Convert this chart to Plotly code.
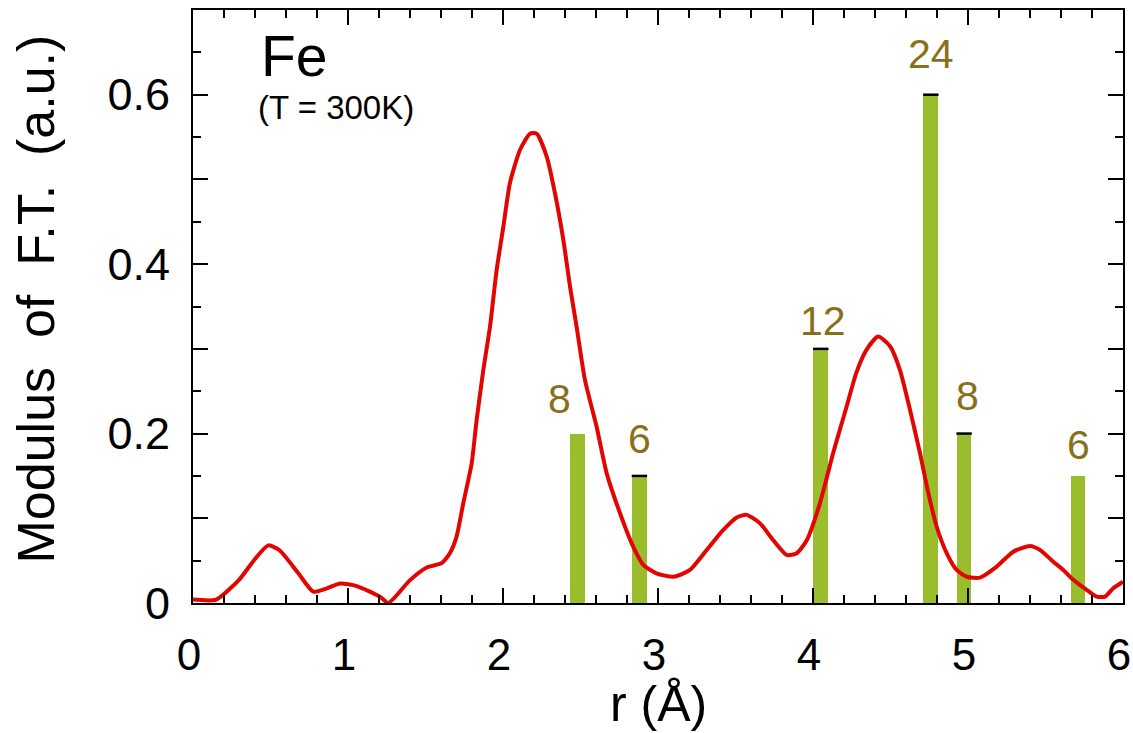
import plotly.graph_objects as go

# ---- data ----
r_curve = [0.0, 0.15, 0.30, 0.40, 0.486, 0.56, 0.68, 0.776, 0.86, 0.95, 1.056, 1.206, 1.26,
           1.40, 1.508, 1.604, 1.658, 1.70, 1.744, 1.798, 1.83, 1.873, 1.916, 1.959, 2.002,
           2.045, 2.11, 2.174, 2.217, 2.282, 2.335, 2.389, 2.432, 2.475, 2.529, 2.604, 2.669,
           2.755, 2.84, 2.905, 2.99, 3.10, 3.206, 3.314, 3.42, 3.508, 3.572, 3.658, 3.744,
           3.83, 3.895, 3.96, 4.045, 4.13, 4.174, 4.217, 4.28, 4.346, 4.42, 4.497, 4.561, 4.626,
           4.69, 4.744, 4.798, 4.863, 4.927, 4.992, 5.077, 5.185, 5.292, 5.40, 5.465, 5.55,
           5.615, 5.67, 5.766, 5.83, 5.884, 5.937, 6.0]
ft_curve = [0.004, 0.004, 0.028, 0.052, 0.068, 0.062, 0.035, 0.0134, 0.017, 0.023, 0.020, 0.0075, 0.0,
            0.027, 0.042, 0.047, 0.059, 0.078, 0.118, 0.165, 0.216, 0.275, 0.326, 0.393, 0.444,
            0.496, 0.535, 0.554, 0.554, 0.527, 0.484, 0.429, 0.374, 0.326, 0.263, 0.208, 0.153,
            0.106, 0.0665, 0.045, 0.035, 0.031, 0.039, 0.0626, 0.086, 0.101, 0.104, 0.094, 0.074,
            0.0567, 0.0587, 0.074, 0.118, 0.177, 0.205, 0.232, 0.272, 0.299, 0.3145, 0.303, 0.275, 0.228,
            0.177, 0.13, 0.090, 0.0587, 0.039, 0.031, 0.030, 0.043, 0.0606, 0.0673, 0.0626, 0.0488,
            0.039, 0.029, 0.0154, 0.0075, 0.0075, 0.0174, 0.025]

shell_r = [2.48, 2.88, 4.05, 4.76, 4.975, 5.71]
shell_height = [0.20, 0.15, 0.30, 0.60, 0.20, 0.15]
shell_n = ["8", "6", "12", "24", "8", "6"]
capped_shells = [1, 2, 3, 4]

y_tick_vals = [0.0, 0.1, 0.2, 0.3, 0.4, 0.5, 0.6, 0.7]
y_tick_text = ["0", "", "0.2", "", "0.4", "", "0.6", ""]
x_tick_vals = [0, 1, 2, 3, 4, 5, 6]

# label placement offsets (pixels), style only
label_xshift = [-18, 0, 2, 0, 3, 0]
label_yshift = [10, 12, 3, 16, 13, 6]

FONT = "Liberation Sans, Arial, Helvetica, sans-serif"
RED = "#e10600"
GREEN = "#9abd2e"
OLIVE = "#86711a"

fig = go.Figure()

fig.add_trace(go.Bar(
    x=shell_r, y=shell_height, width=0.095,
    marker=dict(color=GREEN, line=dict(width=0)),
    showlegend=False, hoverinfo="skip",
))

fig.add_trace(go.Scatter(
    x=[shell_r[i] for i in capped_shells],
    y=[shell_height[i] for i in capped_shells],
    mode="markers",
    marker=dict(symbol="line-ew", size=11, line=dict(width=2.5, color="black")),
    showlegend=False, hoverinfo="skip",
))

fig.add_trace(go.Scatter(
    x=r_curve, y=ft_curve, mode="lines",
    line=dict(color=RED, width=4, shape="spline", smoothing=0.6),
    showlegend=False, hoverinfo="skip",
))

annotations = []
for i, (xr, h, n) in enumerate(zip(shell_r, shell_height, shell_n)):
    annotations.append(dict(
        x=xr, y=h, xref="x", yref="y", text=n, showarrow=False,
        xanchor="center", yanchor="bottom",
        yshift=label_yshift[i], xshift=label_xshift[i],
        font=dict(family=FONT, size=41, color=OLIVE),
    ))

GAP = "\u00a0\u00a0"
annotations += [
    dict(xref="paper", yref="paper", x=0, y=1, xanchor="left", yanchor="top",
         xshift=66, yshift=-12, text="Fe", showarrow=False,
         font=dict(family=FONT, size=57, color="black")),
    dict(xref="paper", yref="paper", x=0, y=1, xanchor="left", yanchor="top",
         xshift=63, yshift=-77, text="(T = 300K)", showarrow=False,
         font=dict(family=FONT, size=33, color="black")),
    dict(xref="paper", yref="paper", x=0.5, y=0, xanchor="center", yanchor="bottom",
         yshift=-130, borderpad=0, text="r (Å)", showarrow=False,
         font=dict(family=FONT, size=50, color="black")),
    dict(xref="paper", yref="paper", x=0, y=0.5, xanchor="center", yanchor="middle",
         xshift=-158, yshift=7, textangle=-90,
         text="Modulus" + GAP + "of" + GAP + "F.T." + GAP + "(a.u.)",
         showarrow=False, font=dict(family=FONT, size=52, color="black")),
]

axis_common = dict(
    showline=True, linecolor="black", linewidth=2, mirror="allticks",
    ticks="inside", tickcolor="black", tickwidth=2, ticklen=15,
    showgrid=False, zeroline=False, automargin=False, ticklabeloverflow="allow",
)

fig.update_layout(
    template="none",
    width=1133, height=733,
    margin=dict(l=193, r=10, t=10, b=130, pad=0),
    paper_bgcolor="white", plot_bgcolor="white",
    bargap=0, showlegend=False,
    annotations=annotations,
    xaxis=dict(range=[0, 6], tickvals=x_tick_vals, ticklabelstandoff=12, ticklabelshift=-4,
               tickfont=dict(family=FONT, size=44, color="black"),
               minor=dict(dtick=0.2, ticks="inside", ticklen=8, tickcolor="black", tickwidth=2),
               **axis_common),
    yaxis=dict(range=[0, 0.7], tickvals=y_tick_vals, ticktext=y_tick_text, ticklabelstandoff=12,
               tickfont=dict(family=FONT, size=45, color="black"),
               minor=dict(dtick=0.05, ticks="inside", ticklen=8, tickcolor="black", tickwidth=2),
               **axis_common),
)

fig.write_html("out.html")
